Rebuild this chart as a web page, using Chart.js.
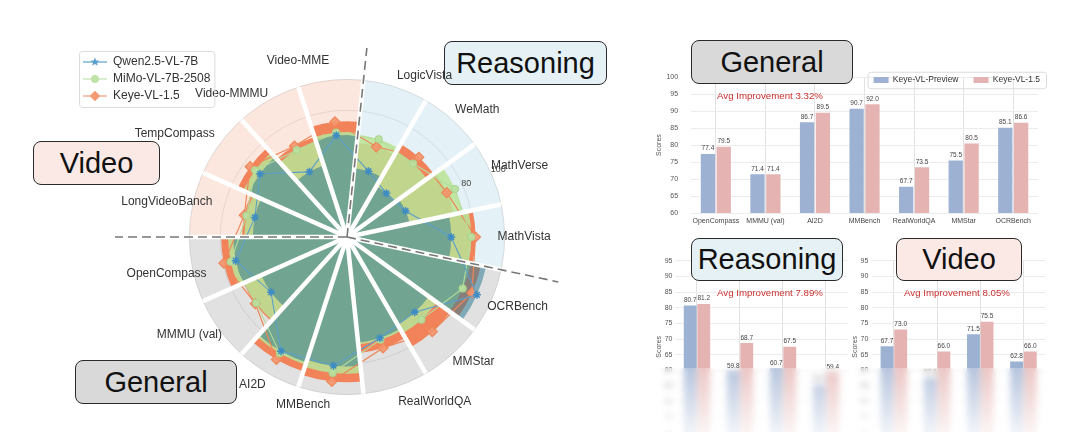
<!DOCTYPE html>
<html>
<head>
<meta charset="utf-8">
<script src="https://cdn.jsdelivr.net/npm/chart.js@4.4.1/dist/chart.umd.min.js"></script>
<style>
  html, body { margin: 0; padding: 0; background: #fff; }
  body { width: 1080px; height: 432px; overflow: hidden; position: relative; font-family: "Liberation Sans", Arial, sans-serif; }
  .wrap { position: absolute; }
  .tag { position: absolute; box-sizing: border-box; border: 1.5px solid #2b2b2b; border-radius: 8px;
         display: flex; align-items: center; justify-content: center; font-size: 29px; color: #111; z-index: 3; }
  .avg { position: absolute; font-size: 9.7px; color: #c8312f; z-index: 3; white-space: nowrap; }
  .fade { position: absolute; left: 630px; top: 368px; width: 450px; height: 64px; z-index: 2;
          background: linear-gradient(to bottom, rgba(255,255,255,0.25), rgba(255,255,255,0.85));
          backdrop-filter: blur(3px); }
</style>
</head>
<body>
<div class="wrap" style="left:0;top:0;width:640px;height:432px;z-index:4;"><canvas id="radar"></canvas></div>
<div class="wrap" style="left:645px;top:60px;width:405px;height:178px;"><canvas id="general"></canvas></div>
<div class="wrap" style="left:645px;top:250px;width:210px;height:215px;"><canvas id="reasoning"></canvas></div>
<div class="wrap" style="left:840px;top:250px;width:215px;height:215px;"><canvas id="video"></canvas></div>

<div class="tag" style="left:33px;top:141px;width:127px;height:44px;background:#fbe9e6;">Video</div>
<div class="tag" style="left:444px;top:41px;width:163px;height:44px;background:#e5f1f5;">Reasoning</div>
<div class="tag" style="left:75px;top:360px;width:162px;height:44px;background:#d9d9d9;">General</div>
<div class="tag" style="left:691px;top:40px;width:162px;height:44px;background:#d9d9d9;">General</div>
<div class="tag" style="left:691px;top:238px;width:152px;height:43px;background:#e5f1f5;">Reasoning</div>
<div class="tag" style="left:896px;top:238px;width:126px;height:43px;background:#fbe9e6;">Video</div>

<div class="avg" style="left:717px;top:90px;">Avg Improvement 3.32%</div>
<div class="avg" style="left:717px;top:287px;">Avg Improvement 7.89%</div>
<div class="avg" style="left:904px;top:287px;">Avg Improvement 8.05%</div>
<div class="fade"></div>

<script>
Chart.defaults.font.family = '"Liberation Sans", Arial, sans-serif';

// radar: categories clockwise from the top
const radarCats = ["Video-MME", "LogicVista", "WeMath", "MathVerse", "MathVista", "OCRBench", "MMStar",
  "RealWorldQA", "MMBench", "AI2D", "MMMU (val)", "OpenCompass", "LongVideoBanch", "TempCompass", "Video-MMMU"];
const radarGroups = ["video", "reasoning", "reasoning", "reasoning", "reasoning", "general", "general",
  "general", "general", "general", "general", "general", "video", "video", "video"];
const qwenScores = [64.1, 42.8, 36.1, 39.5, 65.5, 90.1, 63.5, 66.8, 81.8, 83.4, 58.8, 71.6, 59.0, 67.6, 46.7];
const mimoScores = [66.0, 64.5, 62.0, 74.5, 78.5, 80.0, 70.0, 68.0, 86.5, 85.0, 70.6, 75.0, 64.5, 71.5, 63.0];
const keyeScores = [73.0, 59.4, 67.5, 68.7, 81.2, 86.6, 80.5, 73.5, 92.0, 89.5, 71.4, 79.5, 66.0, 75.5, 66.0];
const radarMin = -2;
const radarMax = 100;
const radarTickLabels = [80, 100];

// bar panels
const generalCats = ["OpenCompass", "MMMU (val)", "AI2D", "MMBench", "RealWorldQA", "MMStar", "OCRBench"];
const generalPreview = [77.4, 71.4, 86.7, 90.7, 67.7, 75.5, 85.1];
const generalV15 = [79.5, 71.4, 89.5, 92.0, 73.5, 80.5, 86.6];
const reasoningCats = ["MathVista", "MathVerse", "WeMath", "LogicVista"];
const reasoningPreview = [80.7, 59.8, 60.7, 55.4];
const reasoningV15 = [81.2, 68.7, 67.5, 59.4];
const videoCats = ["Video-MME", "Video-MMMU", "TempCompass", "LongVideoBench"];
const videoPreview = [67.7, 57.6, 71.5, 62.8];
const videoV15 = [73.0, 66.0, 75.5, 66.0];

// the radar uses two slots per category: a gap slot (wedge edge) and the category slot (wedge middle)
const slotLabels = [];
radarCats.forEach(c => { slotLabels.push(""); slotLabels.push(c); });
const onSlots = arr => {
  const out = [];
  arr.forEach(v => { out.push(null); out.push(v); });
  return out;
};
const labelPad = [13, 4, 4, 0, -7, -4, 0, 8, 4, 5, -3, -14, -20, 6, 0];

const groupBg = {
  video: "rgba(249,212,197,0.55)",
  reasoning: "rgba(205,229,239,0.55)",
  general: "rgba(200,200,200,0.55)",
};

function glyph(color, marker) {
  const c = document.createElement("canvas");
  c.width = 26; c.height = 12;
  const g = c.getContext("2d");
  g.strokeStyle = color; g.fillStyle = color; g.lineWidth = 1.2;
  g.beginPath(); g.moveTo(1, 6); g.lineTo(25, 6); g.stroke();
  g.beginPath();
  if (marker === "star") {
    for (let i = 0; i < 10; i++) {
      const a = -Math.PI / 2 + i * Math.PI / 5;
      const rr = i % 2 ? 2 : 4.6;
      g.lineTo(13 + rr * Math.cos(a), 6 + rr * Math.sin(a));
    }
  } else if (marker === "circle") {
    g.arc(13, 6, 4, 0, Math.PI * 2);
  } else {
    g.moveTo(13, 0.8); g.lineTo(18.2, 6); g.lineTo(13, 11.2); g.lineTo(7.8, 6);
  }
  g.closePath(); g.fill();
  return c;
}
const legendGlyphs = [glyph("#5b9fcc", "star"), glyph("#bfe3a9", "circle"), glyph("#f29a74", "diamond")];

// moves the legend after layout so it does not take space away from the plot
const legendPlace = {
  id: "legendPlace",
  afterLayout(chart, args, opts) {
    const lg = chart.legend;
    if (!lg || opts.left === undefined) return;
    const w = lg.right - lg.left;
    const h = opts.height;
    if (opts.alignRight) {
      lg.right = opts.left; lg.left = opts.left - w;
    } else {
      lg.left = opts.left; lg.right = opts.left + w;
    }
    lg.top = opts.top; lg.bottom = opts.top + h; lg.height = h;
  },
  afterDraw(chart, args, opts) {
    const lg = chart.legend;
    if (!lg || !lg.legendHitBoxes || !lg.legendHitBoxes.length || opts.left === undefined) return;
    const hb = lg.legendHitBoxes;
    const l = Math.min(...hb.map(b => b.left)) - opts.boxPadX;
    const r = Math.max(...hb.map(b => b.left + b.width)) + opts.boxPadX;
    const t = Math.min(...hb.map(b => b.top)) - opts.boxPadY;
    const b = Math.max(...hb.map(b => b.top + b.height)) + opts.boxPadY;
    const ctx = chart.ctx;
    ctx.save();
    ctx.strokeStyle = "#dcdcdc"; ctx.lineWidth = 1;
    ctx.beginPath();
    ctx.roundRect(l + 0.5, t + 0.5, r - l, b - t, 3);
    ctx.stroke();
    ctx.restore();
  }
};

const radarExtras = {
  id: "radarExtras",
  afterDraw(chart) {
    const s = chart.scales.r;
    const ctx = chart.ctx;
    ctx.save();
    ctx.strokeStyle = "#777"; ctx.lineWidth = 1.6; ctx.setLineDash([9, 5]);
    [[2, 190], [10, 216], [24, 232]].forEach(([slot, len]) => {
      const p = s.getPointPosition(slot, len);
      ctx.beginPath(); ctx.moveTo(s.xCenter, s.yCenter); ctx.lineTo(p.x, p.y); ctx.stroke();
    });
    ctx.setLineDash([]);
    ctx.fillStyle = "#444"; ctx.font = '9px "Liberation Sans", Arial, sans-serif';
    ctx.textAlign = "center"; ctx.textBaseline = "middle";
    radarTickLabels.forEach((t, i) => {
      const p = s.getPointPosition(7, s.getDistanceFromCenterForValue(t) + (i ? 8 : 4));
      ctx.fillText(String(t), p.x, p.y);
    });
    ctx.restore();
  }
};

const radialBase = {
  type: "radialLinear",
  axis: "r",
  min: radarMin,
  max: radarMax,
  startAngle: -18,
  ticks: { display: false, stepSize: 20 },
};
const pointLabelBase = {
  display: true,
  font: { size: 12 },
  padding: ctx => (ctx.index % 2 ? labelPad[(ctx.index - 1) / 2] : 0),
  callback: l => (l === "" ? [] : l),
};

const radarChart = new Chart(document.getElementById("radar"), {
  type: "radar",
  data: {
    labels: slotLabels,
    datasets: [
      { type: "radar", label: "Qwen2.5-VL-7B", data: onSlots(qwenScores), spanGaps: true, fill: false,
        borderColor: "#5b9fcc", borderWidth: 1.1, backgroundColor: "#5b9fcc",
        pointStyle: "star", pointRadius: 4, pointBorderColor: "#3f8cc3", pointBorderWidth: 1.5, order: 1 },
      { type: "radar", label: "MiMo-VL-7B-2508", data: onSlots(mimoScores), spanGaps: true, fill: false,
        borderColor: "#b5dd9c", borderWidth: 1.1, backgroundColor: "#bfe3a9",
        pointStyle: "circle", pointRadius: 3.5, pointBackgroundColor: "rgba(185,225,160,0.9)",
        pointBorderColor: "#a9d58f", order: 2 },
      { type: "radar", label: "Keye-VL-1.5", data: onSlots(keyeScores), spanGaps: true, fill: false,
        borderColor: "#ef8658", borderWidth: 1.2, backgroundColor: "#f29a74",
        pointStyle: "rectRot", pointRadius: 5, pointBackgroundColor: "rgba(244,150,110,0.9)",
        pointBorderColor: "#ef8658", order: 3 },
      { type: "polarArea", label: "Qwen bars", data: qwenScores, backgroundColor: "rgba(50,125,150,0.55)",
        borderWidth: 0, order: 5 },
      { type: "polarArea", label: "MiMo bars", data: mimoScores, backgroundColor: "rgba(186,228,150,0.85)",
        borderWidth: 0, order: 6 },
      { type: "polarArea", label: "Keye bars", data: keyeScores, backgroundColor: "#f2825a",
        borderWidth: 0, order: 7 },
      { type: "polarArea", label: "sectors", data: radarCats.map(() => radarMax),
        backgroundColor: radarGroups.map(g => groupBg[g]), borderWidth: 0, order: 9 },
    ],
  },
  options: {
    responsive: true,
    maintainAspectRatio: false,
    animation: false,
    layout: { padding: { left: 72, right: 18, top: 48, bottom: 15 } },
    plugins: {
      tooltip: { enabled: false },
      legend: {
        position: "chartArea",
        align: "start",
        labels: {
          usePointStyle: true,
          pointStyleWidth: 24,
          padding: 5,
          color: "#333",
          font: { size: 12 },
          filter: (item, data) => data.datasets[item.datasetIndex].type === "radar",
          generateLabels(chart) {
            const items = Chart.defaults.plugins.legend.labels.generateLabels(chart);
            items.forEach(it => { it.pointStyle = legendGlyphs[it.datasetIndex] || it.pointStyle; });
            return items;
          },
        },
      },
      legendPlace: { left: 78, top: 51, height: 70, boxPadX: 4, boxPadY: 5 },
    },
    scales: {
      r: Object.assign({}, radialBase, {
        grid: { circular: true, color: "rgba(0,0,0,0.22)", lineWidth: 0.8 },
        angleLines: { color: ctx => (ctx.index % 2 ? "rgba(0,0,0,0.2)" : "rgba(0,0,0,0)"), lineWidth: 0.8 },
        pointLabels: Object.assign({}, pointLabelBase, { color: "rgba(0,0,0,0)" }),
      }),
      rOverlay: Object.assign({}, radialBase, {
        grid: { circular: true, color: "rgba(0,0,0,0)", z: 1 },
        angleLines: { color: ctx => (ctx.index % 2 ? "rgba(0,0,0,0)" : "#ffffff"), lineWidth: 4.5 },
        pointLabels: Object.assign({}, pointLabelBase, { color: "#333" }),
      }),
    },
  },
  plugins: [legendPlace, radarExtras],
});

const barValueLabels = {
  id: "barValueLabels",
  afterDatasetsDraw(chart) {
    const ctx = chart.ctx;
    ctx.save();
    ctx.font = '6.5px "Liberation Sans", Arial, sans-serif';
    ctx.fillStyle = "#444"; ctx.textAlign = "center"; ctx.textBaseline = "bottom";
    chart.data.datasets.forEach((ds, di) => {
      chart.getDatasetMeta(di).data.forEach((bar, i) => {
        ctx.fillText(ds.data[i].toFixed(1), bar.x, bar.y - 2);
      });
    });
    ctx.restore();
  }
};

function scoreBars(id, labels, preview, v15, cfg) {
  return new Chart(document.getElementById(id), {
    type: "bar",
    data: {
      labels: labels,
      datasets: [
        { label: "Keye-VL-Preview", data: preview, backgroundColor: "#9db1d3",
          categoryPercentage: cfg.catPct, barPercentage: cfg.barPct },
        { label: "Keye-VL-1.5", data: v15, backgroundColor: "#e5b4b2",
          categoryPercentage: cfg.catPct, barPercentage: cfg.barPct },
      ],
    },
    options: {
      responsive: true,
      maintainAspectRatio: false,
      animation: false,
      layout: { padding: cfg.padding },
      plugins: {
        tooltip: { enabled: false },
        legend: cfg.legend
          ? { position: "top", align: "end", maxHeight: 1,
              labels: { boxWidth: 15, boxHeight: 6, padding: 15, color: "#333", font: { size: 8.5 } } }
          : { display: false },
        legendPlace: cfg.legend || {},
      },
      scales: {
        x: {
          grid: { offset: false, color: "#e2e2e2", drawTicks: false },
          border: { display: false },
          ticks: { color: "#444", font: { size: 7 }, padding: 4, maxRotation: 0, autoSkip: false },
        },
        y: {
          min: cfg.min,
          max: cfg.max,
          grid: { color: "#ececec", drawTicks: false },
          border: { display: false },
          ticks: { stepSize: 5, color: "#555", font: { size: 7 }, padding: cfg.tickPad },
          title: { display: true, text: "Scores", color: "#555", font: { size: 7 },
                   padding: { top: cfg.titleShift, bottom: -cfg.titleShift } },
        },
      },
    },
    plugins: [barValueLabels, legendPlace],
  });
}

scoreBars("general", generalCats, generalPreview, generalV15, {
  min: 60, max: 100, catPct: 0.64, barPct: 0.9, tickPad: 13, titleShift: 10,
  padding: { left: 0, right: 12, top: 15.7, bottom: 8.6 },
  legend: { left: 410, alignRight: true, top: 0.75, height: 30, boxPadX: 6, boxPadY: 4 },
});
scoreBars("reasoning", reasoningCats, reasoningPreview, reasoningV15, {
  min: 40, max: 95, catPct: 0.63, barPct: 0.95, tickPad: 3, titleShift: 2,
  padding: { left: 8.3, right: 7.5, top: 10.7, bottom: 15.6 },
});
scoreBars("video", videoCats, videoPreview, videoV15, {
  min: 40, max: 95, catPct: 0.63, barPct: 0.95, tickPad: 4, titleShift: 3,
  padding: { left: 8.1, right: 7.8, top: 10.7, bottom: 15.6 },
});
</script>
</body>
</html>
